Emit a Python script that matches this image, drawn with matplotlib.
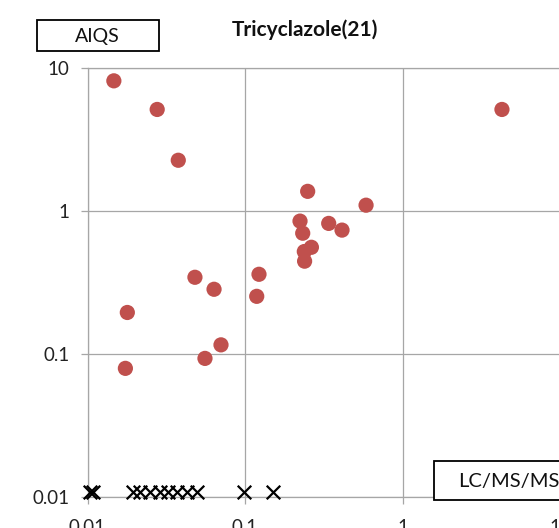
import matplotlib
matplotlib.use("Agg")
import matplotlib.pyplot as plt
from matplotlib.patches import Rectangle

plt.rcParams['font.family'] = ['Lato', 'DejaVu Sans']

# Detected values (LC/MS/MS vs AIQS)
lcms_det = [0.0147, 0.0277, 0.0377, 4.28, 0.250, 0.587, 0.2235, 0.340, 0.413,
            0.2325, 0.264, 0.238, 0.239, 0.1227, 0.0481, 0.0636, 0.1187,
            0.0179, 0.0704, 0.0557, 0.0174]
aiqs_det = [8.17, 5.15, 2.27, 5.15, 1.375, 1.10, 0.851, 0.820, 0.736,
            0.700, 0.558, 0.521, 0.446, 0.361, 0.344, 0.2835, 0.253,
            0.195, 0.1157, 0.0930, 0.0792]

# Non-detects in AIQS (plotted at the floor)
lcms_nd = [0.01037, 0.01084, 0.01945, 0.0215, 0.0249, 0.0289, 0.0324,
           0.0370, 0.0428, 0.0495, 0.0986, 0.150]
aiqs_nd = [0.0108] * len(lcms_nd)

x_ticks = [0.01, 0.1, 1, 10]
x_tick_labels = ["0.01", "0.1", "1", "10"]
y_ticks = [0.01, 0.1, 1, 10]
y_tick_labels = ["0.01", "0.1", "1", "10"]

title = "Tricyclazole(21)"
ylabel_box = "AIQS"
xlabel_box = "LC/MS/MS"

W, H = 559, 528
fig = plt.figure(figsize=(W / 100, H / 100), dpi=100)

ax_l, ax_r, ax_t, ax_b = 87.5, 560.0, 68.3, 496.7
ax = fig.add_axes([ax_l / W, 1 - ax_b / H, (ax_r - ax_l) / W, (ax_b - ax_t) / H])
ax.set_xscale('log')
ax.set_yscale('log')
ax.set_xlim(0.01, 10)
ax.set_ylim(0.01, 10)

grid_c = '#a6a6a6'
ax.grid(True, which='major', color=grid_c, linewidth=0.9)
ax.minorticks_off()
for s in ax.spines.values():
    s.set_color(grid_c)
    s.set_linewidth(0.9)
ax.set_axisbelow(True)

ax.set_xticks(x_ticks)
ax.set_xticklabels(x_tick_labels)
ax.set_yticks(y_ticks)
ax.set_yticklabels(y_tick_labels)
ax.tick_params(axis='both', which='major', direction='out', length=5,
               width=0.9, color=grid_c, labelsize=13.5, labelcolor='#222222')
ax.tick_params(axis='y', pad=8)
ax.tick_params(axis='x', pad=11)

ax.scatter(lcms_det, aiqs_det, s=120, color='#c0504d', edgecolors='none',
           zorder=3, clip_on=False)
ax.scatter(lcms_nd, aiqs_nd, s=95, marker='x', color='black', linewidths=1.6,
           zorder=4, clip_on=False)

# Title
fig.text(305 / W, 1 - 30 / H, title, ha='center', va='center',
         fontsize=15, fontweight='bold', color='#111111')

# AIQS box
fig.patches.append(Rectangle((37 / W, 1 - 51 / H), (159 - 37) / W, (51 - 20) / H,
                             transform=fig.transFigure, facecolor='white',
                             edgecolor='black', linewidth=1.3, zorder=5))
fig.text(97.5 / W, 1 - 36.5 / H, ylabel_box, ha='center', va='center',
         fontsize=14, color='#111111', zorder=6)

# LC/MS/MS box
fig.patches.append(Rectangle((433.5 / W, 1 - 500 / H), (600 - 433.5) / W, (500 - 461) / H,
                             transform=fig.transFigure, facecolor='white',
                             edgecolor='black', linewidth=1.3, zorder=5))
fig.text(458 / W, 1 - 481 / H, xlabel_box, ha='left', va='center',
         fontsize=14.5, color='#111111', zorder=6)

fig.savefig('out.png', dpi=100)
